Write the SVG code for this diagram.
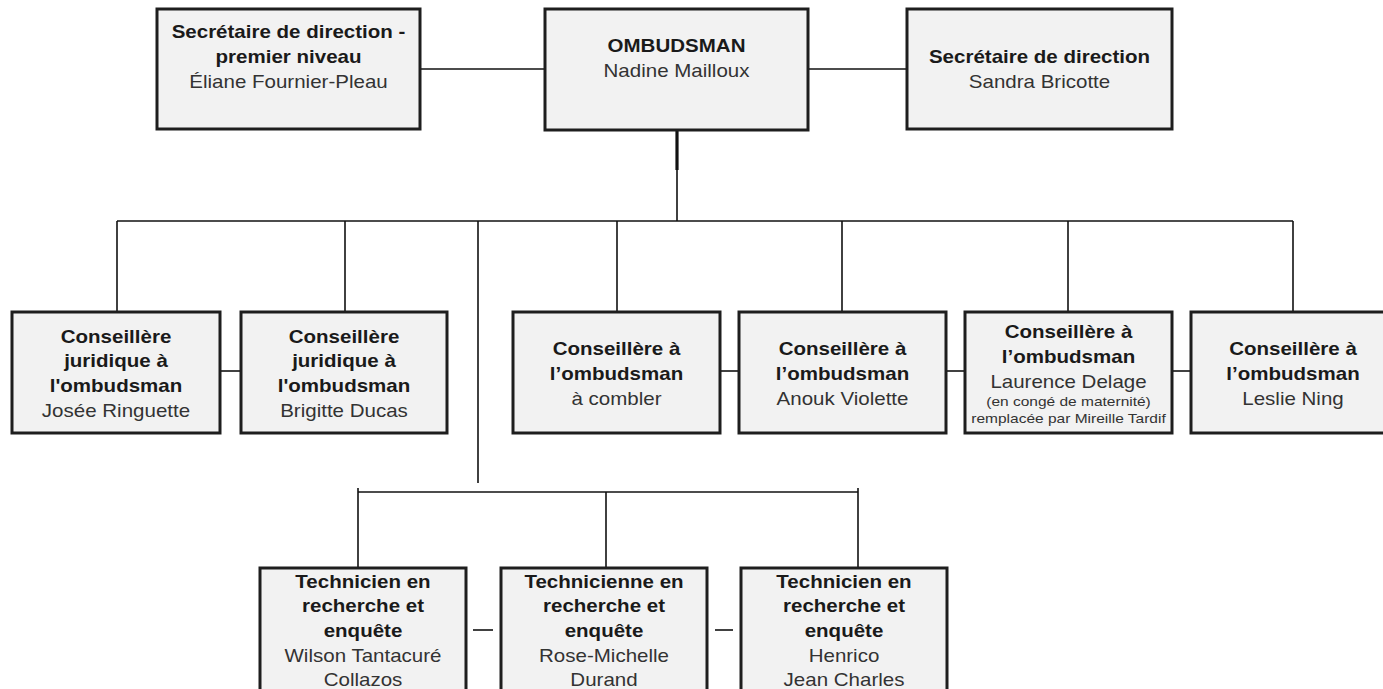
<svg xmlns="http://www.w3.org/2000/svg" width="1383" height="689" viewBox="0 0 1383 689">
<style>
.box{fill:#f2f2f2;stroke:#1e1e1e;stroke-width:3}
.ln{stroke:#111;stroke-width:1.6;fill:none}
.thick{stroke:#111;stroke-width:3.2;fill:none}
text{font-family:"Liberation Sans",Arial,Helvetica,sans-serif;text-anchor:middle}
.b{font-size:18px;font-weight:bold;fill:#1a1a1a}
.r{font-size:18px;fill:#333}
.s{font-size:13.6px;fill:#333}
</style>
<rect width="1383" height="689" fill="#ffffff"/>
<g id="connectors">
<line class="ln" x1="420" y1="69" x2="545" y2="69"/>
<line class="ln" x1="808" y1="69" x2="907" y2="69"/>
<line class="thick" x1="677" y1="130" x2="677" y2="170"/>
<line class="ln" x1="677" y1="170" x2="677" y2="221"/>
<line class="ln" x1="117" y1="221" x2="1293" y2="221"/>
<line class="ln" x1="117" y1="221" x2="117" y2="312"/>
<line class="ln" x1="345" y1="221" x2="345" y2="312"/>
<line class="ln" x1="617" y1="221" x2="617" y2="312"/>
<line class="ln" x1="842" y1="221" x2="842" y2="312"/>
<line class="ln" x1="1068" y1="221" x2="1068" y2="312"/>
<line class="ln" x1="1293" y1="221" x2="1293" y2="312"/>
<line class="ln" x1="478" y1="221" x2="478" y2="483"/>
<line class="ln" x1="220" y1="371" x2="241" y2="371"/>
<line class="ln" x1="720" y1="371" x2="739" y2="371"/>
<line class="ln" x1="946" y1="371" x2="965" y2="371"/>
<line class="ln" x1="1172" y1="371" x2="1191" y2="371"/>
<line class="ln" x1="358" y1="492" x2="858" y2="492"/>
<line class="ln" x1="358" y1="488" x2="358" y2="568"/>
<line class="ln" x1="606" y1="492" x2="606" y2="568"/>
<line class="ln" x1="858" y1="488" x2="858" y2="568"/>
<line class="ln" x1="473" y1="630" x2="493" y2="630"/>
<line class="ln" x1="715" y1="630" x2="733" y2="630"/>
</g>
<g id="sec1">
<rect class="box" x="157" y="9" width="263" height="120"/>
<g transform="translate(288.5,0) scale(1.14,1)">
<text class="b" x="0" y="38">Secrétaire de direction -</text>
<text class="b" x="0" y="63">premier niveau</text>
<text class="r" x="0" y="88">Éliane Fournier-Pleau</text>
</g>
</g>
<g id="ombudsman">
<rect class="box" x="545" y="9" width="263" height="121"/>
<g transform="translate(676.5,0) scale(1.14,1)">
<text class="b" x="0" y="52">OMBUDSMAN</text>
<text class="r" x="0" y="77">Nadine Mailloux</text>
</g>
</g>
<g id="sec2">
<rect class="box" x="907" y="9" width="265" height="120"/>
<g transform="translate(1039.5,0) scale(1.14,1)">
<text class="b" x="0" y="63">Secrétaire de direction</text>
<text class="r" x="0" y="88">Sandra Bricotte</text>
</g>
</g>
<g id="cj1">
<rect class="box" x="12" y="312" width="208" height="121"/>
<g transform="translate(116,0) scale(1.14,1)">
<text class="b" x="0" y="343">Conseillère</text>
<text class="b" x="0" y="367">juridique à</text>
<text class="b" x="0" y="392">l'ombudsman</text>
<text class="r" x="0" y="417">Josée Ringuette</text>
</g>
</g>
<g id="cj2">
<rect class="box" x="241" y="312" width="206" height="121"/>
<g transform="translate(344,0) scale(1.14,1)">
<text class="b" x="0" y="343">Conseillère</text>
<text class="b" x="0" y="367">juridique à</text>
<text class="b" x="0" y="392">l'ombudsman</text>
<text class="r" x="0" y="417">Brigitte Ducas</text>
</g>
</g>
<g id="c3">
<rect class="box" x="513" y="312" width="207" height="121"/>
<g transform="translate(616.5,0) scale(1.14,1)">
<text class="b" x="0" y="355">Conseillère à</text>
<text class="b" x="0" y="380">l’ombudsman</text>
<text class="r" x="0" y="405">à combler</text>
</g>
</g>
<g id="c4">
<rect class="box" x="739" y="312" width="207" height="121"/>
<g transform="translate(842.5,0) scale(1.14,1)">
<text class="b" x="0" y="355">Conseillère à</text>
<text class="b" x="0" y="380">l’ombudsman</text>
<text class="r" x="0" y="405">Anouk Violette</text>
</g>
</g>
<g id="c5">
<rect class="box" x="965" y="312" width="207" height="121"/>
<g transform="translate(1068.5,0) scale(1.14,1)">
<text class="b" x="0" y="338">Conseillère à</text>
<text class="b" x="0" y="363">l’ombudsman</text>
<text class="r" x="0" y="388">Laurence Delage</text>
<text class="s" x="0" y="406">(en congé de maternité)</text>
<text class="s" x="0" y="423">remplacée par Mireille Tardif</text>
</g>
</g>
<g id="c6">
<rect class="box" x="1191" y="312" width="206" height="121"/>
<g transform="translate(1293,0) scale(1.14,1)">
<text class="b" x="0" y="355">Conseillère à</text>
<text class="b" x="0" y="380">l’ombudsman</text>
<text class="r" x="0" y="405">Leslie Ning</text>
</g>
</g>
<g id="t1">
<rect class="box" x="260" y="568" width="206" height="140"/>
<g transform="translate(363,0) scale(1.14,1)">
<text class="b" x="0" y="588">Technicien en</text>
<text class="b" x="0" y="612">recherche et</text>
<text class="b" x="0" y="637">enquête</text>
<text class="r" x="0" y="662">Wilson Tantacuré</text>
<text class="r" x="0" y="686">Collazos</text>
</g>
</g>
<g id="t2">
<rect class="box" x="501" y="568" width="206" height="140"/>
<g transform="translate(604,0) scale(1.14,1)">
<text class="b" x="0" y="588">Technicienne en</text>
<text class="b" x="0" y="612">recherche et</text>
<text class="b" x="0" y="637">enquête</text>
<text class="r" x="0" y="662">Rose-Michelle</text>
<text class="r" x="0" y="686">Durand</text>
</g>
</g>
<g id="t3">
<rect class="box" x="741" y="568" width="206" height="140"/>
<g transform="translate(844,0) scale(1.14,1)">
<text class="b" x="0" y="588">Technicien en</text>
<text class="b" x="0" y="612">recherche et</text>
<text class="b" x="0" y="637">enquête</text>
<text class="r" x="0" y="662">Henrico</text>
<text class="r" x="0" y="686">Jean Charles</text>
</g>
</g>
</svg>
